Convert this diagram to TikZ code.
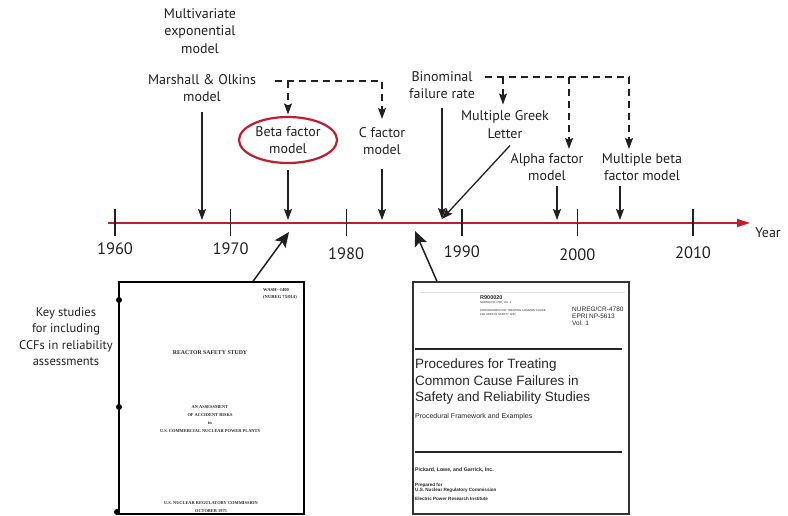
\documentclass[tikz,border=0pt]{standalone}
\usepackage{fontspec}
\setsansfont{PT Sans}
\newfontfamily\coverserif{Liberation Serif}
\newfontfamily\coversans{Liberation Sans}
\usepackage{xcolor}
\usepackage{tikz}
\usetikzlibrary{calc}
\usetikzlibrary{positioning}
\usetikzlibrary{arrows.meta}
\usetikzlibrary{shapes.geometric}
\definecolor{axisred}{RGB}{190,30,45}
\definecolor{inkgray}{RGB}{35,31,32}

\begin{document}
\begin{tikzpicture}[
    x = 1pt,
    y = -1pt,
    font = \sffamily,
    lbl/.style = {
      align=center,
      inner sep=0pt,
      text=inkgray,
      font=\sffamily\fontsize{14}{17.5}\selectfont
    },
    yearlbl/.style = {
      inner sep=0pt,
      text=inkgray,
      font=\sffamily\fontsize{16.5}{18}\selectfont
    },
    arr/.style = {
      -{Stealth[length=11pt,width=8pt,inset=2pt]},
      line width=1.3pt,
      draw=inkgray
    },
    dasharr/.style = {
      arr,
      line width=1.2pt,
      dash pattern=on 7pt off 5pt
    },
    bigarr/.style = {
      -{Stealth[length=15pt,width=13pt,inset=3pt]},
      line width=1.5pt,
      draw=inkgray
    },
    cover/.style = {
      rectangle,
      draw=black,
      line width=1.3pt,
      inner sep=0pt
    },
    serifcap/.style = {
      inner sep=0pt,
      align=center,
      text=black!85,
      font=\coverserif\bfseries\fontsize{4.4}{8}\selectfont
    },
    sanscap/.style = {
      inner sep=0pt,
      anchor=west,
      align=left,
      text=black!85,
      font=\coversans\fontsize{7}{7}\selectfont
    }
  ]
    \useasboundingbox (0,0) rectangle (788,515);

    % time axis
    \coordinate (ax-start) at (108,223);
    \coordinate (ax-end) at (750,223);
    \draw[axisred, line width=1.3pt, -{Triangle[length=13pt,width=8pt]}] (ax-start) -- (ax-end);
    \foreach \yr/\ly in {1960/249,1970/249,1980/254,1990/252,2000/255,2010/253} {
      \draw[inkgray, line width=1.4pt] ({115+11.56*(\yr-1960)},209) -- ({115+11.56*(\yr-1960)},236);
      \node[yearlbl] (y\yr) at ({115+11.56*(\yr-1960)},\ly) {\yr};
    }
    \node[lbl] (year) at (768,233) {Year};

    % where the arrows meet the axis
    \coordinate (on-mo) at (202,220);
    \coordinate (on-beta) at (288,220);
    \coordinate (on-cf) at (382,220);
    \coordinate (on-bfr) at (442,219);
    \coordinate (on-afm) at (557,220);
    \coordinate (on-mbf) at (620,220);
    \coordinate (on-wash) at (289,232);
    \coordinate (on-nureg) at (415,231);

    % models
    \node[lbl] (mve) at (200,31) {Multivariate\\exponential\\model};
    \node[lbl] (mo) at (202,88) {Marshall \& Olkins\\model};
    \node[lbl, ellipse, draw=axisred, line width=2.2pt,
      minimum width=98pt, minimum height=46pt] (beta) at (288,140) {Beta factor\\model};
    \node[lbl] (cf) at (382,141) {C factor\\model};
    \node[lbl] (bfr) at (442,85) {Binominal\\failure rate};
    \node[lbl] (mgl) at (505,124.5) {Multiple Greek\\Letter};
    \node[lbl] (afm) at (547,167) {Alpha factor\\model};
    \node[lbl] (mbf) at (642,167) {Multiple beta\\factor model};

    \draw[arr, shorten <=10pt] (mo.south) -- (on-mo);
    \draw[arr, shorten <=6pt] (beta.south) -- (on-beta);
    \draw[arr, shorten <=14pt] (cf.south) -- (on-cf);
    \draw[arr, shorten <=9pt] (bfr.south) -- (on-bfr);
    \draw[arr] ([xshift=5pt,yshift=-7pt]mgl.south) -- (on-bfr);
    \draw[arr, shorten <=5pt] (afm.south -| on-afm) -- (on-afm);
    \draw[arr, shorten <=5pt] (mbf.south -| on-mbf) -- (on-mbf);

    % derived models
    \coordinate (mo-dash) at (275,81);
    \coordinate (bfr-dash) at (485,77);
    \draw[dasharr, shorten >=8pt] (mo-dash) -| (cf.north);
    \draw[dasharr, shorten >=1.5pt] (beta.north |- mo-dash) -- (beta.north);
    \draw[dasharr, shorten >=4pt] (bfr-dash) -| ([xshift=-13pt]mbf.north);
    \draw[dasharr, shorten >=6pt] ([xshift=-2pt]mgl.north |- bfr-dash) -- ([xshift=-2pt]mgl.north);
    \draw[dasharr, shorten >=4pt] ([xshift=22pt]afm.north |- bfr-dash) -- ([xshift=22pt]afm.north);

    % key studies
    \node[lbl, font=\sffamily\fontsize{12.5}{16.5}\selectfont] (key) at (66,336.5)
      {Key studies\\for including\\CCFs in reliability\\assessments};

    % WASH-1400 cover
    \node[cover, minimum width=185pt, minimum height=232pt] (wash) at (211.5,398) {};
    \fill (119,300) circle (3pt);
    \fill (119,407) circle (3pt);
    \fill (117,512) circle (3pt);
    \node[serifcap, anchor=west, align=left, font=\coverserif\bfseries\fontsize{4.6}{7}\selectfont]
      (w-id) at (263,293.5) {WASH--1400\\(NUREG 75/014)};
    \node[serifcap, font=\coverserif\bfseries\fontsize{5.8}{7}\selectfont]
      (w-title) at (210,353) {REACTOR SAFETY STUDY};
    \node[serifcap] (w-sub) at (210,419)
      {AN ASSESSMENT\\OF ACCIDENT RISKS\\in\\U.S. COMMERCIAL NUCLEAR POWER PLANTS};
    \node[serifcap] (w-agency) at (211,507)
      {U.S. NUCLEAR REGULATORY COMMISSION\\OCTOBER 1975};

    % NUREG/CR-4780 cover
    \node[cover, draw=black!80, line width=1.2pt, minimum width=216pt, minimum height=232pt]
      (nureg) at (521,398) {};
    \draw[black!12, line width=0.6pt] (420,292) -- (625,292);
    \node[sanscap, font=\coversans\bfseries\fontsize{5.5}{6}\selectfont] (n-rep) at (480,298) {R900020};
    \node[sanscap, font=\coversans\fontsize{2.8}{3.5}\selectfont] (n-sub1) at (480,303) {NUREG/CR-4780, Vol. 1};
    \node[sanscap, font=\coversans\fontsize{2.8}{3.5}\selectfont] (n-sub2) at (480,312.5)
      {PROCEDURES FOR TREATING COMMON CAUSE\\FAILURES IN SAFETY AND};
    \node[sanscap, font=\coversans\fontsize{6.5}{7}\selectfont] (n-num) at (572,316)
      {NUREG/CR-4780\\EPRI NP-5613\\Vol. 1};
    \draw[black!85, line width=2pt] (415,349) -- (622,349);
    \node[sanscap, font=\coversans\fontsize{13.5}{16.5}\selectfont] (n-title) at (415,382)
      {Procedures for Treating\\Common Cause Failures in\\Safety and Reliability Studies};
    \node[sanscap] (n-proc) at (415,417) {Procedural Framework and Examples};
    \draw[black!85, line width=2pt] (415,452) -- (622,452);
    \node[sanscap, font=\coversans\bfseries\fontsize{5.2}{6}\selectfont] (n-auth) at (415,470)
      {Pickard, Lowe, and Garrick, Inc.};
    \node[sanscap, font=\coversans\bfseries\fontsize{4.6}{5}\selectfont] (n-prep) at (415,488)
      {Prepared for\\U.S. Nuclear Regulatory Commission};
    \node[sanscap, font=\coversans\bfseries\fontsize{4.6}{5}\selectfont] (n-epri) at (415,499)
      {Electric Power Research Institute};

    \draw[bigarr] ([xshift=41.5pt]wash.north) -- (on-wash);
    \draw[bigarr] ([xshift=-84pt]nureg.north) -- (on-nureg);
  \end{tikzpicture}
\end{document}
